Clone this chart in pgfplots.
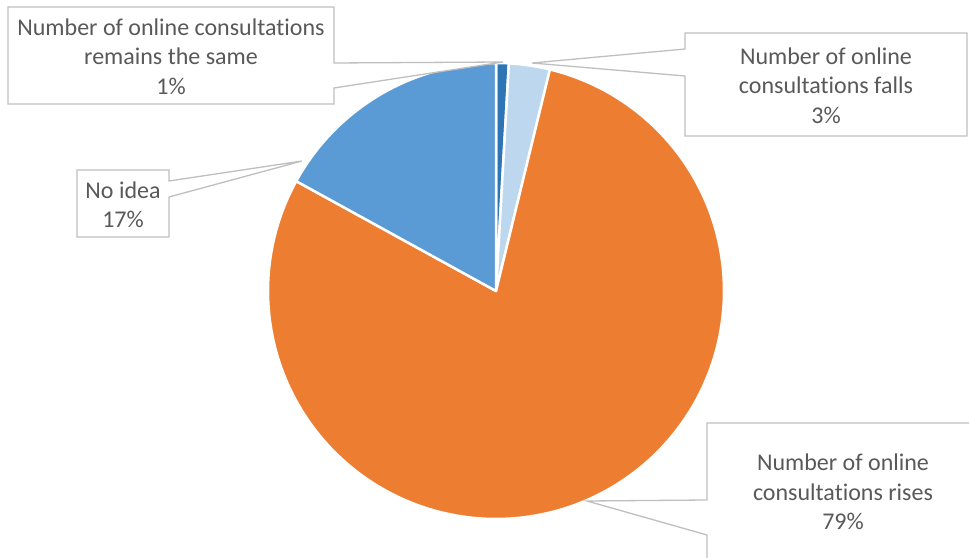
\documentclass[border=0pt]{standalone}
\usepackage{pgfplots}
\pgfplotsset{compat=1.18}
\usepackage{fontspec}
\setmainfont{Carlito}[Ligatures=NoCommon]
\definecolor{cSame}{HTML}{2E75B6}
\definecolor{cFalls}{HTML}{BDD7EE}
\definecolor{cRises}{HTML}{ED7D31}
\definecolor{cNo}{HTML}{5B9BD5}
\definecolor{txt}{HTML}{595959}
\definecolor{bord}{HTML}{BFBFBF}
% shares in percent
\def\vA{0.9}  % remains the same
\def\vB{2.9}  % falls
\def\vC{79.2} % rises
\def\vD{17.0} % no idea
\pgfmathsetmacro\aA{90}
\pgfmathsetmacro\aB{\aA-3.6*\vA}
\pgfmathsetmacro\aC{\aB-3.6*\vB}
\pgfmathsetmacro\aD{\aC-3.6*\vC}
\pgfmathsetmacro\aE{\aD-3.6*\vD}
\def\cx{496}\def\cy{266}\def\rr{228}
\begin{document}
\begin{tikzpicture}
\begin{axis}[
  scale only axis, width=969pt, height=557pt,
  xmin=0, xmax=969, ymin=0, ymax=557,
  hide axis, clip=false,
]
\addplot[fill=cSame, draw=white, line width=2.5pt, line join=round, domain=\aB:\aA, samples=10]
  ({\cx+\rr*cos(x)},{\cy+\rr*sin(x)}) -- (axis cs:\cx,\cy) -- cycle;
\addplot[fill=cFalls, draw=white, line width=2.5pt, line join=round, domain=\aC:\aB, samples=20]
  ({\cx+\rr*cos(x)},{\cy+\rr*sin(x)}) -- (axis cs:\cx,\cy) -- cycle;
\addplot[fill=cRises, draw=white, line width=2.5pt, line join=round, domain=\aD:\aC, samples=200]
  ({\cx+\rr*cos(x)},{\cy+\rr*sin(x)}) -- (axis cs:\cx,\cy) -- cycle;
\addplot[fill=cNo, draw=white, line width=2.5pt, line join=round, domain=\aE:\aD, samples=60]
  ({\cx+\rr*cos(x)},{\cy+\rr*sin(x)}) -- (axis cs:\cx,\cy) -- cycle;

% callouts (y = 557 - pixel y)
\draw[bord, line width=1.3pt, fill=white, line join=miter]
  (axis cs:8,550) -- (axis cs:334,550) -- (axis cs:334,494) -- (axis cs:503,495)
  -- (axis cs:334,469) -- (axis cs:334,453) -- (axis cs:8,453) -- cycle;
\node[txt, align=center, font=\fontsize{24}{29.5}\selectfont] at (axis cs:171,500.5)
  {Number of online consultations\\remains the same\\1\%};

\draw[bord, line width=1.3pt, fill=white, line join=miter]
  (axis cs:685,524) -- (axis cs:967,524) -- (axis cs:967,421) -- (axis cs:685,421)
  -- (axis cs:685,481) -- (axis cs:532,494) -- (axis cs:685,508) -- cycle;
\node[txt, align=center, font=\fontsize{24}{29.5}\selectfont] at (axis cs:826,471.5)
  {Number of online\\consultations falls\\3\%};

\draw[bord, line width=1.3pt, fill=white, line join=miter]
  (axis cs:77,387) -- (axis cs:169,387) -- (axis cs:169,376) -- (axis cs:302,396)
  -- (axis cs:169,360) -- (axis cs:169,320) -- (axis cs:77,320) -- cycle;
\node[txt, align=center, font=\fontsize{24}{29.5}\selectfont] at (axis cs:123,352)
  {No idea\\17\%};

\draw[bord, line width=1.3pt, fill=white, line join=miter]
  (axis cs:707,134) -- (axis cs:985,134) -- (axis cs:985,-20) -- (axis cs:707,-20)
  -- (axis cs:707,22) -- (axis cs:587,56) -- (axis cs:707,57) -- cycle;
\node[txt, align=center, font=\fontsize{24}{29.5}\selectfont] at (axis cs:843,65)
  {Number of online\\consultations rises\\79\%};
\end{axis}
\pgfresetboundingbox
\path[use as bounding box] (current axis.south west) rectangle (current axis.north east);
\end{tikzpicture}
\end{document}
